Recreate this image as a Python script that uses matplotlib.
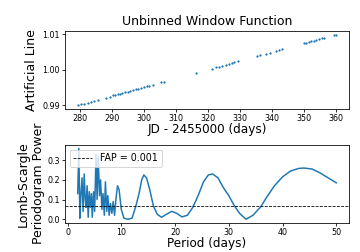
import matplotlib
matplotlib.use("Agg")
import matplotlib.pyplot as plt

# observation times (JD - 2455000) and the artificial line values
jd = [279.2, 280.2, 281.3, 282.3, 283.4, 284.4, 285.5,
      288.2, 289.2, 290.3, 291.0, 291.8, 292.4, 293.2, 293.9, 294.8, 295.6,
      296.5, 297.4, 298.2, 299.0, 300.0, 300.9, 301.6, 302.7,
      305.3, 306.3, 316.4,
      321.3, 322.4, 323.4, 324.5, 325.5, 326.6, 327.4, 328.3, 329.3,
      335.4, 336.4, 338.3, 339.3, 341.4, 342.2, 343.3,
      350.0, 350.8, 351.6, 352.4, 353.2, 353.9, 354.8, 355.6, 356.3,
      359.5, 360.2]
line_val = [0.9899, 0.9902, 0.9904, 0.9907, 0.9910, 0.9912, 0.9915,
            0.9921, 0.9924, 0.9927, 0.9928, 0.9930, 0.9932, 0.9934, 0.9936, 0.9938, 0.9940,
            0.9942, 0.9944, 0.9946, 0.9948, 0.9951, 0.9953, 0.9955, 0.9957,
            0.9964, 0.9966, 0.9991,
            1.0003, 1.0006, 1.0008, 1.0011, 1.0014, 1.0016, 1.0018, 1.0021, 1.0023,
            1.0038, 1.0041, 1.0045, 1.0048, 1.0053, 1.0055, 1.0058,
            1.0074, 1.0076, 1.0078, 1.0080, 1.0082, 1.0084, 1.0086, 1.0088, 1.0090,
            1.0098, 1.0099]

# periodogram of the window
period = [1.9, 2.1, 2.3, 2.5, 2.7, 2.9, 3.1, 3.3, 3.45, 3.65, 3.85, 4.05, 4.25,
          4.45, 4.6, 4.85, 5.05, 5.3, 5.5, 5.7, 5.95, 6.15, 6.4, 6.6, 6.85,
          7.05, 7.3, 7.5, 7.75, 8.0, 8.25, 8.5, 8.75, 9.0, 9.3, 9.6, 10.0,
          10.5, 11.2, 12.0, 12.7, 13.3, 13.8, 14.2, 14.7, 15.3, 16.0, 16.7,
          17.5, 18.4, 19.4, 20.3, 21.3, 22.3, 23.3, 24.3, 25.3, 26.2, 27.0,
          28.0, 29.0, 30.0, 31.0, 32.0, 33.2, 34.5, 35.5, 36.0, 37.0, 38.5,
          40.0, 41.5, 43.0, 44.0, 45.5, 47.0, 48.5, 50.0]
power = [0.13, 0.36, 0.005, 0.13, 0.21, 0.04, 0.23, 0.10, 0.06, 0.17, 0.01, 0.14, 0.06,
         0.13, 0.01, 0.14, 0.04, 0.33, 0.10, 0.32, 0.12, 0.20, 0.05, 0.13, 0.02,
         0.19, 0.04, 0.12, 0.02, 0.08, 0.03, 0.09, 0.02, 0.10, 0.17, 0.15, 0.05,
         0.005, 0.0, 0.005, 0.065, 0.13, 0.20, 0.225, 0.21, 0.15, 0.065, 0.025,
         0.01, 0.025, 0.04, 0.03, 0.012, 0.02, 0.06, 0.12, 0.19, 0.225, 0.23,
         0.21, 0.16, 0.12, 0.07, 0.03, 0.0, 0.02, 0.05, 0.065, 0.11, 0.17,
         0.215, 0.245, 0.258, 0.26, 0.255, 0.235, 0.21, 0.185]
fap = 0.065

fig, (ax1, ax2) = plt.subplots(2, 1, figsize=(5, 3.5), dpi=72)
fig.subplots_adjust(left=0.18, right=0.97, top=0.877, bottom=0.116, hspace=0.46)

ax1.scatter(jd, line_val, s=1.5, color='tab:blue')
ax1.set_title('Unbinned Window Function', fontsize=12.5)
ax1.set_xlabel('JD - 2455000 (days)', fontsize=12, labelpad=0)
ax1.set_ylabel('Artificial Line', fontsize=12.5)
ax1.set_yticks([0.99, 1.00, 1.01])
ax1.tick_params(labelsize=8, length=3, pad=2)

ax2.plot(period, power, color='tab:blue')
ax2.axhline(fap, color='black', ls='--', lw=0.8, label='FAP = 0.001')
ax2.set_xlabel('Period (days)', fontsize=12, labelpad=0)
ax2.set_ylabel('Lomb-Scargle\nPeriodogram Power', fontsize=12.5, labelpad=2)
ax2.set_yticks([0.0, 0.1, 0.2, 0.3])
ax2.tick_params(labelsize=8, length=3, pad=2)
ax2.legend(loc='upper left', fontsize=9.5)

fig.savefig('out.png')
